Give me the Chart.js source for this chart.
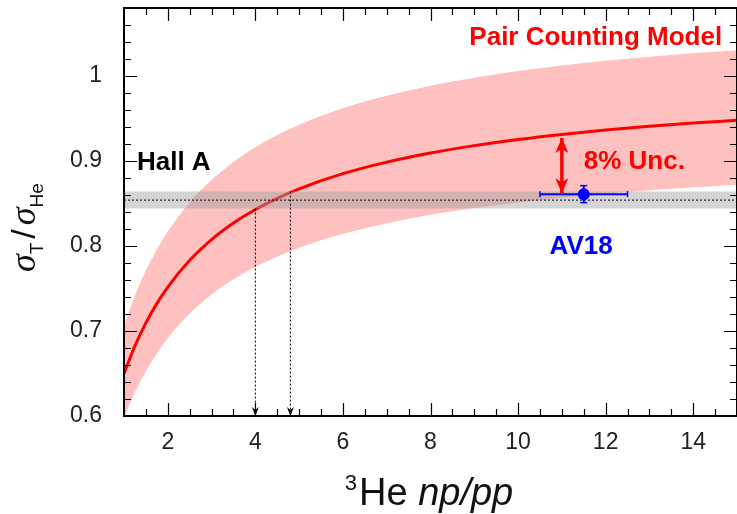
<!DOCTYPE html>
<html><head><meta charset="utf-8">
<script src="https://cdn.jsdelivr.net/npm/chart.js@4.4.0/dist/chart.umd.min.js"></script>
<style>html,body{margin:0;padding:0;background:#fff;}#wrap{width:737px;height:514px;}</style>
</head><body><div id="wrap"><canvas id="c" width="737" height="514"></canvas></div>
<script>
// ---- data ----
const xModel    = [1, 1.25, 1.5, 1.75, 2, 2.5, 3, 3.5, 4, 4.5, 5, 6, 7, 8, 9, 10, 11, 12, 13, 14, 15];
const yModel    = [0.650, 0.6825, 0.7095, 0.7322, 0.7517, 0.7832, 0.8076, 0.8270, 0.8429, 0.8561, 0.8673, 0.8851, 0.8987, 0.9095, 0.9181, 0.9253, 0.9313, 0.9364, 0.9408, 0.9446, 0.9480];
const yBandHigh = [0.7065, 0.7418, 0.7712, 0.7959, 0.8171, 0.8513, 0.8778, 0.8989, 0.9162, 0.9305, 0.9427, 0.9621, 0.9768, 0.9886, 0.9979, 1.0058, 1.0123, 1.0178, 1.0226, 1.0267, 1.0304];
const yBandLow  = [0.5980, 0.6279, 0.6527, 0.6736, 0.6916, 0.7205, 0.7430, 0.7608, 0.7755, 0.7876, 0.7979, 0.8143, 0.8268, 0.8367, 0.8447, 0.8513, 0.8568, 0.8615, 0.8655, 0.8690, 0.8722];
const hallARangeX = [1, 15];
const hallAValue  = [0.854];
const hallABand   = [0.844, 0.864];
const crossX      = [4, 4.8];
const crossTopY   = [0.844, 0.864];
const av18Point   = [11.5, 0.861];
const av18Err     = [1.0, 0.01];
const uncArrowX   = [11];
const uncArrowY   = [0.927, 0.862];
const xTickLabels = [2, 4, 6, 8, 10, 12, 14];
const yTickLabels = [0.6, 0.7, 0.8, 0.9, 1.0];
const textNotes = [
  {text: 'Pair Counting Model', x: 14.66, y: 1.0365, color: '#ff0000', align: 'right'},
  {text: '8% Unc.', x: 11.5, y: 0.8906, color: '#ff0000', align: 'left'},
  {text: 'Hall A', x: 1.295, y: 0.890, color: '#000000', align: 'left'},
  {text: 'AV18', x: 11.44, y: 0.7906, color: '#0000ff', align: 'center'}
];

const pts = (xs, ys) => xs.map((v, i) => ({x: v, y: ys[i]}));
const RED = '#ff0000', BLUE = '#0000ff';

function drawHead(ctx, x0, y0, x1, y1, size, color) {
  const [len, half, notch] = size;
  const dx = x1 - x0, dy = y1 - y0, d = Math.hypot(dx, dy) || 1;
  const ux = dx / d, uy = dy / d, px = -uy, py = ux;
  const bx = x1 - ux * len, by = y1 - uy * len;
  ctx.save();
  ctx.fillStyle = color;
  ctx.beginPath();
  ctx.moveTo(x1, y1);
  ctx.lineTo(bx + px * half, by + py * half);
  ctx.lineTo(x1 - ux * (len - notch), y1 - uy * (len - notch));
  ctx.lineTo(bx - px * half, by - py * half);
  ctx.closePath();
  ctx.fill();
  ctx.restore();
}

const overlay = {
  id: 'overlay',
  afterDatasetsDraw(chart) {
    const {ctx, chartArea: a, scales: {x, y}} = chart;
    chart.data.datasets.forEach((ds, i) => {
      if (!ds.heads) return;
      const p = chart.getDatasetMeta(i).data;
      ds.heads.forEach(h => {
        const tip = h === 'end' ? p[p.length - 1] : p[0];
        const prev = h === 'end' ? p[p.length - 2] : p[1];
        drawHead(ctx, prev.x, prev.y, tip.x, tip.y, ds.headSize, ds.borderColor);
      });
    });
    ctx.save();
    ctx.strokeStyle = '#000';
    ctx.lineWidth = 1.2;
    ctx.beginPath();
    for (let k = 1; k < 28; k++) {
      const v = 1 + k * 0.5;
      const px = Math.round(x.getPixelForValue(v)) + 0.5;
      const L = xTickLabels.includes(v) ? 13 : 7;
      ctx.moveTo(px, a.bottom); ctx.lineTo(px, a.bottom - L);
      ctx.moveTo(px, a.top); ctx.lineTo(px, a.top + L);
    }
    for (let k = 1; k < 24; k++) {
      const v = 0.6 + k * 0.02;
      const py = Math.round(y.getPixelForValue(v)) + 0.5;
      const L = (k % 5 === 0) ? 13 : 7;
      ctx.moveTo(a.left, py); ctx.lineTo(a.left + L, py);
      ctx.moveTo(a.right, py); ctx.lineTo(a.right - L, py);
    }
    ctx.stroke();
    ctx.lineWidth = 2;
    ctx.strokeRect(a.left, a.top, a.right - a.left, a.bottom - a.top);
    ctx.restore();
    ctx.save();
    ctx.font = 'bold 26px "Liberation Sans", Arial, sans-serif';
    ctx.textBaseline = 'alphabetic';
    textNotes.forEach(n => {
      ctx.fillStyle = n.color;
      ctx.textAlign = n.align;
      ctx.fillText(n.text, x.getPixelForValue(n.x), y.getPixelForValue(n.y));
    });
    ctx.restore();
  },
  afterDraw(chart) {
    const {ctx} = chart;
    ctx.save();
    ctx.fillStyle = '#111';
    ctx.textBaseline = 'alphabetic';
    ctx.textAlign = 'left';
    const fSup = '22px "Liberation Sans", Arial, sans-serif';
    const fMain = '38px "Liberation Sans", Arial, sans-serif';
    const fIt = 'italic 38px "Liberation Sans", Arial, sans-serif';
    ctx.font = fSup; const w1 = ctx.measureText('3').width;
    ctx.font = fMain; const w2 = ctx.measureText('He ').width;
    ctx.font = fIt; const w3 = ctx.measureText('np/pp').width;
    const total = w1 + 2 + w2 + w3;
    let sx = 429 - total / 2;
    const base = 505;
    ctx.font = fSup; ctx.fillText('3', sx, base - 15); sx += w1 + 2;
    ctx.font = fMain; ctx.fillText('He ', sx, base); sx += w2;
    ctx.font = fIt; ctx.fillText('np/pp', sx, base);
    ctx.translate(35, 272);
    ctx.rotate(-Math.PI / 2);
    const fSig = 'italic 36px "Liberation Serif", "DejaVu Serif", serif';
    const fSub = '19px "Liberation Sans", Arial, sans-serif';
    const fSl = '34px "Liberation Sans", Arial, sans-serif';
    let t = 0;
    ctx.font = fSig; ctx.fillText('\u03C3', t, 0); t += ctx.measureText('\u03C3').width;
    ctx.font = fSub; ctx.fillText('T', t, 8); t += ctx.measureText('T').width + 4;
    ctx.font = fSl; ctx.fillText('/', t, 0); t += ctx.measureText('/').width + 4;
    ctx.font = fSig; ctx.fillText('\u03C3', t, 0); t += ctx.measureText('\u03C3').width;
    ctx.font = fSub; ctx.fillText('He', t, 8);
    ctx.restore();
  }
};

const dotted = (data, order, extra) => Object.assign({
  data, order, borderColor: '#000', borderWidth: 1, borderDash: [2, 2],
  pointRadius: 0, fill: false, showLine: true
}, extra || {});

const zeroPad = s => { s.paddingTop = 0; s.paddingBottom = 0; s.paddingLeft = 0; s.paddingRight = 0; };

new Chart(document.getElementById('c'), {
  type: 'scatter',
  data: {
    datasets: [
      {data: pts(xModel, yBandLow), order: 20, showLine: true, borderWidth: 0, borderColor: 'transparent', pointRadius: 0, cubicInterpolationMode: 'monotone', fill: false},
      {data: pts(xModel, yBandHigh), order: 19, showLine: true, borderWidth: 0, borderColor: 'transparent', pointRadius: 0, cubicInterpolationMode: 'monotone', fill: '-1', backgroundColor: '#ffc0c0'},
      {data: pts(xModel, yModel), order: 18, showLine: true, borderWidth: 3, borderColor: RED, pointRadius: 0, cubicInterpolationMode: 'monotone', fill: false},
      {data: pts(hallARangeX, [hallABand[0], hallABand[0]]), order: 17, showLine: true, borderWidth: 0, borderColor: 'transparent', pointRadius: 0, fill: false},
      {data: pts(hallARangeX, [hallABand[1], hallABand[1]]), order: 16, showLine: true, borderWidth: 0, borderColor: 'transparent', pointRadius: 0, fill: '-1', backgroundColor: 'rgba(160,160,160,0.45)'},
      dotted(pts(hallARangeX, [hallAValue[0], hallAValue[0]]), 15),
      dotted(pts([crossX[0], crossX[0]], [crossTopY[0], 0.6]), 14, {heads: ['end'], headSize: [9, 3.5, 3]}),
      dotted(pts([crossX[1], crossX[1]], [crossTopY[1], 0.6]), 13, {heads: ['end'], headSize: [9, 3.5, 3]}),
      {data: pts([av18Point[0] - av18Err[0], av18Point[0] + av18Err[0]], [av18Point[1], av18Point[1]]), order: 12, showLine: true, borderColor: BLUE, borderWidth: 2, pointStyle: 'line', pointRotation: 90, pointRadius: 3, pointBorderColor: BLUE, pointBorderWidth: 1.5},
      {data: pts([av18Point[0], av18Point[0]], [av18Point[1] - av18Err[1], av18Point[1] + av18Err[1]]), order: 11, showLine: true, borderColor: BLUE, borderWidth: 2, pointStyle: 'line', pointRotation: 0, pointRadius: 3.5, pointBorderColor: BLUE, pointBorderWidth: 1.5},
      {data: pts([av18Point[0]], [av18Point[1]]), order: 10, pointStyle: 'circle', pointRadius: 6, backgroundColor: BLUE, borderColor: BLUE, pointBorderWidth: 0},
      {data: pts([uncArrowX[0], uncArrowX[0]], uncArrowY), order: 9, showLine: true, borderColor: RED, borderWidth: 3.5, pointRadius: 0, heads: ['start', 'end'], headSize: [15, 6.5, 4]}
    ]
  },
  options: {
    responsive: false, animation: false, devicePixelRatio: 1,
    layout: {autoPadding: false, padding: {top: 8, right: -2, left: 0, bottom: 0}},
    plugins: {legend: {display: false}, tooltip: {enabled: false}},
    scales: {
      x: {
        type: 'linear', min: 1, max: 15,
        grid: {display: false, drawTicks: false}, border: {display: false},
        afterBuildTicks: s => { s.ticks = xTickLabels.map(v => ({value: v})); },
        afterFit: s => { s.height = 98; zeroPad(s); },
        ticks: {font: {family: 'Liberation Sans', size: 23}, color: '#222', padding: 13, maxRotation: 0, autoSkip: false}
      },
      y: {
        type: 'linear', min: 0.6, max: 1.08,
        grid: {display: false, drawTicks: false}, border: {display: false},
        afterBuildTicks: s => { s.ticks = yTickLabels.map(v => ({value: v})); },
        afterFit: s => { s.width = 124; zeroPad(s); },
        ticks: {font: {family: 'Liberation Sans', size: 23}, color: '#222', padding: 22, autoSkip: false,
                callback: v => String(Number(Number(v).toFixed(2)))}
      }
    }
  },
  plugins: [overlay]
});
</script>
</body></html>
